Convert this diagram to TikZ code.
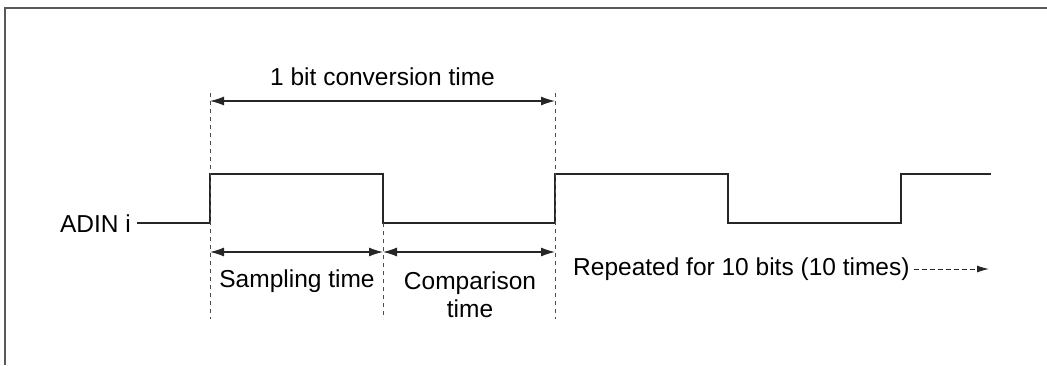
\documentclass[tikz,border=0pt]{standalone}
\usepackage{fontspec}
\setmainfont{Liberation Sans}
\usetikzlibrary{arrows.meta}
\begin{document}
\begin{tikzpicture}[x=1pt,y=-1pt,
  lbl/.style={font=\fontsize{24.5}{29}\selectfont, inner sep=0pt, text=black},
  wave/.style={line width=1.2pt, draw=black!85},
  guide/.style={line width=1pt, draw=black!70, dash pattern=on 4pt off 4pt},
  dim/.style={line width=1.2pt, draw=black!85, {Latex[length=14pt,width=9pt]}-{Latex[length=14pt,width=9pt]}},
  rep/.style={line width=1pt, draw=black!85, dash pattern=on 5pt off 3pt, -{Latex[length=12pt,width=7pt]}},
  frame/.style={line width=1.5pt, draw=black!65}]
\useasboundingbox (0,0) rectangle (1047,365);
% frame
\coordinate (fb) at (5,365);
\coordinate (ftl) at (5,8);
\coordinate (ftr) at (1047,8);
\draw[frame] (fb) -- (ftl) -- (ftr);
% label
\node[lbl, anchor=east] (adin) at (131,224) {ADIN i};
% waveform points
\coordinate (w0) at (137,223);
\coordinate (w1) at (210,223);
\coordinate (w2) at (210,174);
\coordinate (w3) at (383,174);
\coordinate (w4) at (383,223);
\coordinate (w5) at (555,223);
\coordinate (w6) at (555,174);
\coordinate (w7) at (728,174);
\coordinate (w8) at (728,223);
\coordinate (w9) at (901,223);
\coordinate (w10) at (901,174);
\coordinate (w11) at (991,174);
\draw[wave] (w0) -- (w1) -- (w2) -- (w3) -- (w4) -- (w5) -- (w6) -- (w7) -- (w8) -- (w9) -- (w10) -- (w11);
% guides
\coordinate (g1t) at (210,93);
\coordinate (g1b) at (210,319);
\coordinate (g2t) at (383,223);
\coordinate (g2b) at (383,319);
\coordinate (g3t) at (555,93);
\coordinate (g3b) at (555,319);
\draw[guide] (g1t) -- (g1b);
\draw[guide] (g2t) -- (g2b);
\draw[guide] (g3t) -- (g3b);
% dimension arrows
\coordinate (a1l) at (210,101);
\coordinate (a1r) at (555,101);
\draw[dim] (a1l) -- (a1r);
\node[lbl] (conv) at (382.5,77) {1 bit conversion time};
\coordinate (a2l) at (210,252);
\coordinate (a2r) at (383,252);
\coordinate (a3r) at (555,252);
\draw[dim] (a2l) -- (a2r);
\draw[dim] (a2r) -- (a3r);
\node[lbl] (samp) at (297,281) {Sampling time};
\node[lbl, align=center] (comp) at (470,295) {Comparison\\[-1pt]time};
% repeated
\node[lbl, anchor=west] (rep) at (573,269) {Repeated for 10 bits (10 times)};
\coordinate (repend) at (989,269);
\draw[rep] ([xshift=4pt]rep.east) -- (repend);
\end{tikzpicture}
\end{document}
